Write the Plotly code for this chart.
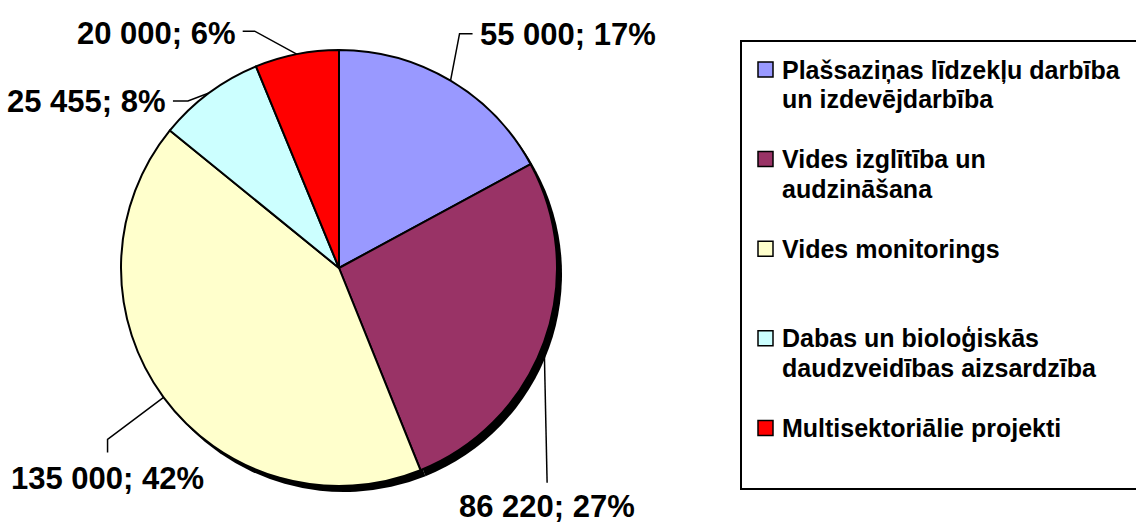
import math
import plotly.graph_objects as go

# data
categories = [
    "Plašsaziņas līdzekļu darbība<br>un izdevējdarbība",
    "Vides izglītība un<br>audzināšana",
    "Vides monitorings",
    "Dabas un bioloģiskās<br>daudzveidības aizsardzība",
    "Multisektoriālie projekti",
]
values = [55000, 86220, 135000, 25455, 20000]
colors = ["#9999FF", "#993366", "#FFFFCC", "#CCFFFF", "#FF0000"]

W, H = 1136, 523
FONT = "Liberation Sans, Arial, sans-serif"

# pie geometry in pixels
cx, cy, R = 339, 268, 218
shadow_dx, shadow_dy = 5, 6


def px(x):
    return x / W


def py(y):
    return 1 - y / H


def fmt(v):
    return f"{v:,}".replace(",", " ")


total = sum(values)
labels = [f"{fmt(v)}; {round(100 * v / total)}%" for v in values]

# where each leader line bends, its short stub, and where the text sits (px)
label_style = [
    dict(elbow=(9, -47), stub=(13, 0), text=(5, 1), xa="left"),
    dict(elbow=(3, 141), stub=(0, 0), text=(0, 24), xa="center"),
    dict(elbow=(-56, 42), stub=(0, 13), text=(0, 26), xa="center"),
    dict(elbow=(-21, 8), stub=(-15, 0), text=(-5, 0), xa="right"),
    dict(elbow=(-42, -23), stub=(-12, 0), text=(-5, 2), xa="right"),
]

dom_x = [px(cx - R), px(cx + R)]
dom_y = [py(cy + R), py(cy - R)]

fig = go.Figure()

# drop shadow
fig.add_trace(go.Pie(
    values=values,
    sort=False, direction="clockwise", rotation=0,
    marker=dict(colors=["black"] * len(values), line=dict(width=0)),
    textinfo="none", hoverinfo="skip", showlegend=False,
    domain=dict(x=[px(cx - R + shadow_dx), px(cx + R + shadow_dx)],
                y=[py(cy + R + shadow_dy), py(cy - R + shadow_dy)]),
))

fig.add_trace(go.Pie(
    labels=categories, values=values,
    sort=False, direction="clockwise", rotation=0,
    marker=dict(colors=colors, line=dict(color="black", width=2)),
    textinfo="none", showlegend=False,
    domain=dict(x=dom_x, y=dom_y),
))

shapes = []
annotations = []

# data labels with leader lines
cum = 0
for v, lab, st in zip(values, labels, label_style):
    theta = 2 * math.pi * (cum + v / 2) / total
    cum += v
    ex = cx + R * math.sin(theta)
    ey = cy - R * math.cos(theta)
    bx, by = ex + st["elbow"][0], ey + st["elbow"][1]
    sx, sy = bx + st["stub"][0], by + st["stub"][1]
    shapes.append(dict(
        type="path", xref="paper", yref="paper",
        path=f"M {px(ex)},{py(ey)} L {px(bx)},{py(by)} L {px(sx)},{py(sy)}",
        line=dict(color="black", width=1.5),
        layer="below",
    ))
    annotations.append(dict(
        x=px(sx + st["text"][0]), y=py(sy + st["text"][1]),
        xref="paper", yref="paper", xanchor=st["xa"], yanchor="middle",
        text=f"<b>{lab}</b>", showarrow=False,
        font=dict(family=FONT, size=31, color="black"),
    ))

# legend box
shapes.append(dict(type="rect", xref="paper", yref="paper",
                   x0=px(741), x1=px(1150), y0=py(489), y1=py(41),
                   line=dict(color="black", width=2), fillcolor="white",
                   layer="below"))

leg_top, leg_pitch, line_gap = 69.5, 89.6, 29.5
for i, (name, col) in enumerate(zip(categories, colors)):
    yc = leg_top + i * leg_pitch
    shapes.append(dict(type="rect", xref="paper", yref="paper",
                       x0=px(758), x1=px(773), y0=py(yc + 7.5), y1=py(yc - 7.5),
                       fillcolor=col, line=dict(color="black", width=1.5)))
    for j, part in enumerate(name.split("<br>")):
        annotations.append(dict(
            x=px(780), y=py(yc + j * line_gap),
            xref="paper", yref="paper", xanchor="left", yanchor="middle",
            text=f"<b>{part}</b>", showarrow=False,
            font=dict(family=FONT, size=25, color="black"),
        ))

fig.update_layout(
    width=W, height=H,
    margin=dict(l=0, r=0, t=0, b=0),
    paper_bgcolor="white", plot_bgcolor="white",
    shapes=shapes, annotations=annotations,
    showlegend=False,
)

# page body has a default 8px margin; drop it so the figure fills the window
fig.write_html("out.html", config={"displayModeBar": False},
               post_script="document.body.style.margin='0';")
